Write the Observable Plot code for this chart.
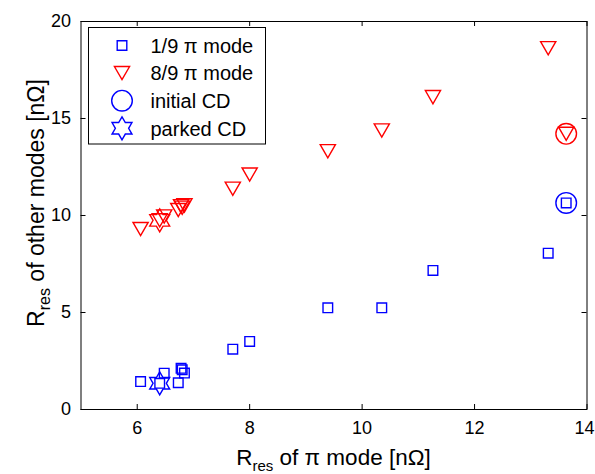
<!DOCTYPE html>
<html><head><meta charset="utf-8">
<script src="https://cdn.jsdelivr.net/npm/d3@7"></script>
<script src="https://cdn.jsdelivr.net/npm/@observablehq/plot@0.6"></script>
<style>body{margin:0;background:#fff} #chart{width:595px;height:474px}</style>
</head><body><div id="chart"></div>
<script>
// R_res of pi mode [nOhm]
const piMode = [6.06, 6.40, 6.48, 6.73, 6.78, 6.80, 6.84, 7.70, 8.00, 9.39, 10.35, 11.26, 13.31, 13.63];
// R_res of 1/9 pi mode
const mode19 = [1.44, 1.35, 1.87, 1.38, 2.12, 2.05, 1.88, 3.11, 3.51, 5.24, 5.24, 7.17, 8.06, 10.65];
// R_res of 8/9 pi mode
const mode89 = [9.30, 9.75, 9.95, 10.28, 10.48, 10.40, 10.52, 11.38, 12.11, 13.31, 14.38, 16.10, 18.62, 14.21];
// initial CD
const initialX = [13.63];
const initialY19 = [10.65];
const initialY89 = [14.21];
// parked CD
const parkedX = [6.40];
const parkedY19 = [1.35];
const parkedY89 = [9.75];

const xTicks = [6, 8, 10, 12, 14];
const yTicks = [0, 5, 10, 15, 20];
const legendLabels = ["1/9 π mode", "8/9 π mode", "initial CD", "parked CD"];
const xTitle = ["R", "res", " of π mode [nΩ]"];
const yTitle = ["R", "res", " of other modes [nΩ]"];

const BLUE = "#0000ff", RED = "#ff0000";
const W = 595, H = 474, mL = 80.5, mR = 8.5, mT = 21, mB = 65;
const pW = W - mL - mR, pH = H - mT - mB;
const FONT = "'Liberation Sans', Arial, Helvetica, sans-serif";

const rad = s => Math.sqrt(s / Math.PI);
const sqSym = {draw(c, s) { const r = rad(s); c.moveTo(-r, -r); c.lineTo(r, -r); c.lineTo(r, r); c.lineTo(-r, r); c.closePath(); }};
const triDownSym = {draw(c, s) { const r = rad(s); c.moveTo(-r, -0.87 * r); c.lineTo(r, -0.87 * r); c.lineTo(0, 0.87 * r); c.closePath(); }};
const hexSym = {draw(c, s) {
  const R = rad(s), ri = R / Math.sqrt(3);
  for (let k = 0; k < 12; k++) {
    const a = -Math.PI / 2 + k * Math.PI / 6, rr = k % 2 ? ri : R;
    const x = rr * Math.cos(a), y = rr * Math.sin(a);
    k ? c.lineTo(x, y) : c.moveTo(x, y);
  }
  c.closePath();
}};
const circSym = {draw(c, s) { const r = rad(s); c.moveTo(r, 0); c.arc(0, 0, r, 0, 2 * Math.PI); }};

const SQ_R = 4.8, TRI_R = 7.6, CIRC_R = 10.3, HEX_R = 11.5, SW = 1.4;

const plot = Plot.plot({
  width: W, height: H,
  marginLeft: mL, marginRight: mR, marginTop: mT, marginBottom: mB,
  style: {fontFamily: FONT, fontSize: "18px", color: "black", background: "white"},
  x: {domain: [5, 14]},
  y: {domain: [0, 20]},
  marks: [
    Plot.tickX(xTicks, {x: d => d, insetTop: pH - 5, stroke: "black"}),
    Plot.tickX(xTicks, {x: d => d, insetBottom: pH - 5, stroke: "black"}),
    Plot.tickY(yTicks, {y: d => d, insetRight: pW - 5, stroke: "black"}),
    Plot.tickY(yTicks, {y: d => d, insetLeft: pW - 5, stroke: "black"}),
    Plot.axisX(xTicks, {anchor: "bottom", tickSize: 0, tickPadding: 12, label: null, fontSize: 18}),
    Plot.axisY(yTicks, {anchor: "left", tickSize: 0, tickPadding: 10, label: null, fontSize: 18}),
    Plot.dot(piMode, {x: d => d, y: (d, i) => mode19[i], symbol: sqSym, r: SQ_R, stroke: BLUE, strokeWidth: SW}),
    Plot.dot(piMode, {x: d => d, y: (d, i) => mode89[i], symbol: triDownSym, r: TRI_R, stroke: RED, strokeWidth: SW}),
    Plot.dot(initialX, {x: d => d, y: (d, i) => initialY19[i], symbol: circSym, r: CIRC_R, stroke: BLUE, strokeWidth: SW}),
    Plot.dot(initialX, {x: d => d, y: (d, i) => initialY89[i], symbol: circSym, r: CIRC_R, stroke: RED, strokeWidth: SW}),
    Plot.dot(parkedX, {x: d => d, y: (d, i) => parkedY19[i], symbol: hexSym, r: HEX_R, stroke: BLUE, strokeWidth: SW}),
    Plot.dot(parkedX, {x: d => d, y: (d, i) => parkedY89[i], symbol: hexSym, r: HEX_R, stroke: RED, strokeWidth: SW}),
    Plot.frame({stroke: "black", strokeWidth: 1})
  ]
});

const svg = d3.select(plot);

// keep the last x tick label inside the picture (as in the reference)
svg.selectAll("g[aria-label='x-axis tick label'] text")
  .filter(function () { return this.textContent.trim() === String(xTicks[xTicks.length - 1]); })
  .attr("text-anchor", "end").attr("dx", 7.5);

// Legend (inside plot, upper-left)
const lx = mL + 8, ly = mT + 6.5;
const lg = svg.append("g").attr("font-family", FONT).attr("font-size", 20).attr("text-anchor", "start");
lg.append("rect").attr("x", lx).attr("y", ly).attr("width", 177).attr("height", 116.5)
  .attr("fill", "white").attr("stroke", "black").attr("stroke-width", 1);
const legSyms = [[sqSym, SQ_R], [triDownSym, TRI_R], [circSym, CIRC_R], [hexSym, HEX_R]];
const legColors = [BLUE, RED, BLUE, BLUE];
legendLabels.forEach((t, i) => {
  const cy = ly + 18 + i * 27.6;
  lg.append("path")
    .attr("d", d3.symbol(legSyms[i][0], legSyms[i][1] ** 2 * Math.PI)())
    .attr("transform", `translate(${lx + 33.5},${cy})`)
    .attr("fill", "none").attr("stroke", legColors[i]).attr("stroke-width", SW);
  lg.append("text").attr("x", lx + 62).attr("y", cy).attr("dy", "0.36em").attr("fill", "black").text(t);
});

// Axis titles with subscripts
function title(sel, parts, fs) {
  sel.append("tspan").text(parts[0]);
  sel.append("tspan").attr("font-size", Math.round(fs * 0.68)).attr("dy", 6).text(parts[1]);
  sel.append("tspan").attr("dy", -6).text(parts[2]);
}
const xt = svg.append("text").attr("x", mL + pW / 2).attr("y", 465)
  .attr("text-anchor", "middle").attr("font-family", FONT).attr("font-size", 22.5).attr("fill", "black");
title(xt, xTitle, 22.5);
const yt = svg.append("text").attr("transform", `translate(44,${mT + pH / 2 - 12}) rotate(-90)`)
  .attr("text-anchor", "middle").attr("font-family", FONT).attr("font-size", 23).attr("fill", "black");
title(yt, yTitle, 23);

document.getElementById("chart").appendChild(plot);
</script>
</body></html>
